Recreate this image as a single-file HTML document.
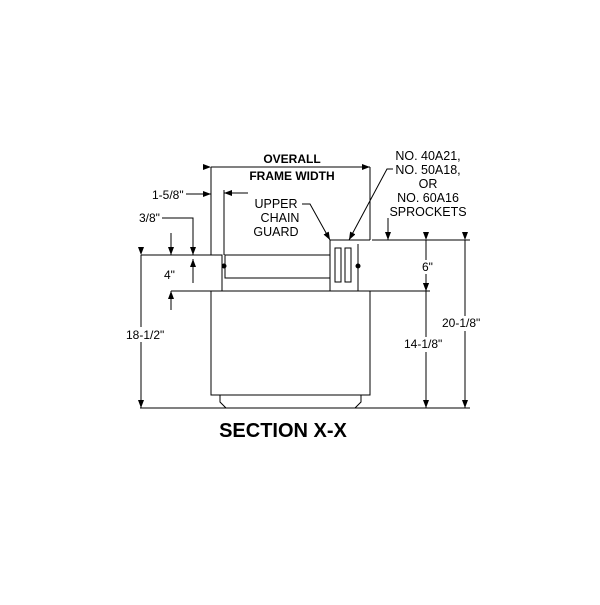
<!DOCTYPE html>
<html><head><style>body{margin:0;background:#fff}</style></head><body>
<svg width="600" height="600" viewBox="0 0 600 600" xmlns="http://www.w3.org/2000/svg" font-family="Liberation Sans, sans-serif">
<defs><marker id="a" markerWidth="8" markerHeight="6" refX="8" refY="3" orient="auto" markerUnits="userSpaceOnUse"><path d="M0,0 L8,3 L0,6z" fill="#000"/></marker></defs>
<g stroke="#000" stroke-width="1" fill="none">
<line x1="211" y1="167" x2="211" y2="255"/>
<line x1="370" y1="167" x2="370" y2="240"/>
<line x1="211" y1="167" x2="370" y2="167" marker-start="url(#a)" marker-end="url(#a)"/>
<rect x="211" y="291" width="159" height="104"/>
<path d="M220,395 L220,402 L226,408 L355,408 L361,402 L361,395"/>
<line x1="140" y1="408" x2="470" y2="408"/>
<path d="M211,255 L222,255 L222,291"/>
<line x1="224" y1="190" x2="224" y2="255"/>
<rect x="225" y="255" width="105" height="23"/>
<circle cx="224" cy="266" r="2" fill="#000"/>
<path d="M330,291 L330,240 L370,240 M358,244 L358,291 L330,291"/>
<rect x="335" y="248" width="6" height="34"/>
<rect x="345" y="248" width="6" height="34"/>
<circle cx="358" cy="266" r="2" fill="#000"/>
<line x1="141" y1="255" x2="215" y2="255"/>
<line x1="141" y1="255" x2="141" y2="408" marker-start="url(#a)" marker-end="url(#a)"/>
<line x1="171" y1="291" x2="211" y2="291"/>
<line x1="171" y1="233" x2="171" y2="255" marker-end="url(#a)"/>
<line x1="171" y1="310" x2="171" y2="291" marker-end="url(#a)"/>
<path d="M162,218 L193,218 L193,255" marker-end="url(#a)"/>
<line x1="193" y1="283" x2="193" y2="259" marker-end="url(#a)"/>
<line x1="186" y1="194" x2="211" y2="194" marker-end="url(#a)"/>
<line x1="248" y1="193" x2="224" y2="193" marker-end="url(#a)"/>
<line x1="372" y1="240" x2="470" y2="240"/>
<line x1="370" y1="291" x2="430" y2="291"/>
<line x1="465" y1="240" x2="465" y2="408" marker-start="url(#a)" marker-end="url(#a)"/>
<line x1="426" y1="240" x2="426" y2="291" marker-start="url(#a)" marker-end="url(#a)"/>
<line x1="426" y1="291" x2="426" y2="408" marker-start="url(#a)" marker-end="url(#a)"/>
<path d="M302,204 L310,204 L330,240" marker-end="url(#a)"/>
<path d="M393,169 L387,169 L349,240" marker-end="url(#a)"/>
<line x1="388" y1="218" x2="388" y2="240" marker-end="url(#a)"/>
</g>
<g fill="#fff">
<rect x="125" y="327" width="40" height="15"/>
<rect x="162" y="268" width="14" height="14"/>
<rect x="420" y="260" width="14" height="14"/>
<rect x="403" y="337" width="40" height="15"/>
<rect x="441" y="316" width="40" height="15"/>
</g>
<g font-size="12" fill="#000">
<text x="292" y="163" text-anchor="middle" font-weight="bold">OVERALL</text>
<text x="292" y="180" text-anchor="middle" font-weight="bold">FRAME WIDTH</text>
<g text-anchor="middle" font-size="12.5">
<text x="428" y="160">NO. 40A21,</text>
<text x="428" y="174">NO. 50A18,</text>
<text x="428" y="188">OR</text>
<text x="428" y="202">NO. 60A16</text>
<text x="428" y="216">SPROCKETS</text>
<text x="276" y="208">UPPER</text>
<text x="280" y="222">CHAIN</text>
<text x="276" y="236">GUARD</text>
</g>
<text x="152" y="199">1-5/8"</text>
<text x="139" y="222">3/8"</text>
<text x="164" y="279">4"</text>
<text x="126" y="339">18-1/2"</text>
<text x="422" y="271">6"</text>
<text x="404" y="348">14-1/8"</text>
<text x="442" y="327">20-1/8"</text>
<text x="283" y="437" text-anchor="middle" font-size="20" font-weight="bold">SECTION X-X</text>
</g>
</svg>
</body></html>
